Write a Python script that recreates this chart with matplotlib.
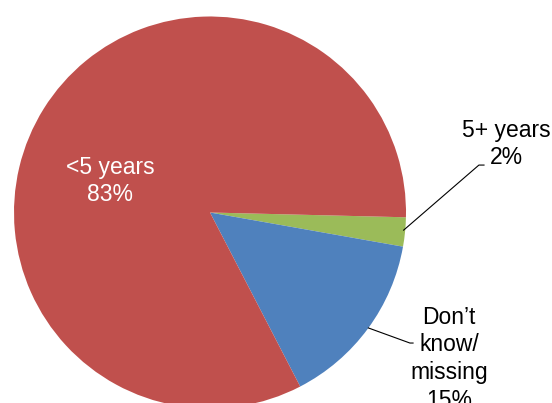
import matplotlib
matplotlib.use("Agg")
import matplotlib.pyplot as plt

plt.rcParams['font.family'] = ['Liberation Sans', 'DejaVu Sans']

categories = ["5+ years", "Don\u2019t\nknow/\nmissing", "<5 years"]
values = [2.4, 14.6, 83.0]
colors = ["#9BBB59", "#4F81BD", "#C0504D"]

W, H = 552, 403
fig = plt.figure(figsize=(W / 100, H / 100), dpi=100)
cx, cy, r = 210, 212.5, 196
ax = fig.add_axes([(cx - r) / W, (H - (cy + r)) / H, 2 * r / W, 2 * r / H])

wedges, _ = ax.pie(values, colors=colors, startangle=-1.4, counterclock=False,
                   radius=1, center=(0, 0), frame=True,
                   wedgeprops=dict(linewidth=0))
ax.set_xlim(-1, 1)
ax.set_ylim(-1, 1)
ax.axis('off')
for w in wedges:
    w.set_clip_on(False)

fs = 16.5
# <5 years label (inside)
ax.text(-0.51, 0.16, f"{categories[2]}\n{round(values[2])}%", color="white", fontsize=fs,
        ha="center", va="center", multialignment="center", linespacing=1.2)

# 5+ years label with leader
ax.text(1.51, 0.35, f"{categories[0]}\n{round(values[0])}%", color="black", fontsize=fs,
        ha="center", va="center", multialignment="center", linespacing=1.2,
        clip_on=False)
ax.plot([0.988, 1.372, 1.398], [-0.09, 0.242, 0.242], color="black", lw=0.8,
        clip_on=False)

# Don't know label with leader
ax.text(1.219, -0.745, f"{categories[1]}\n{round(values[1])}%", color="black", fontsize=fs,
        ha="center", va="center", multialignment="center", linespacing=1.26,
        clip_on=False)
ax.plot([0.808, 1.02, 1.036], [-0.589, -0.666, -0.666], color="black", lw=0.8,
        clip_on=False)

fig.savefig("out.png", dpi=100)
